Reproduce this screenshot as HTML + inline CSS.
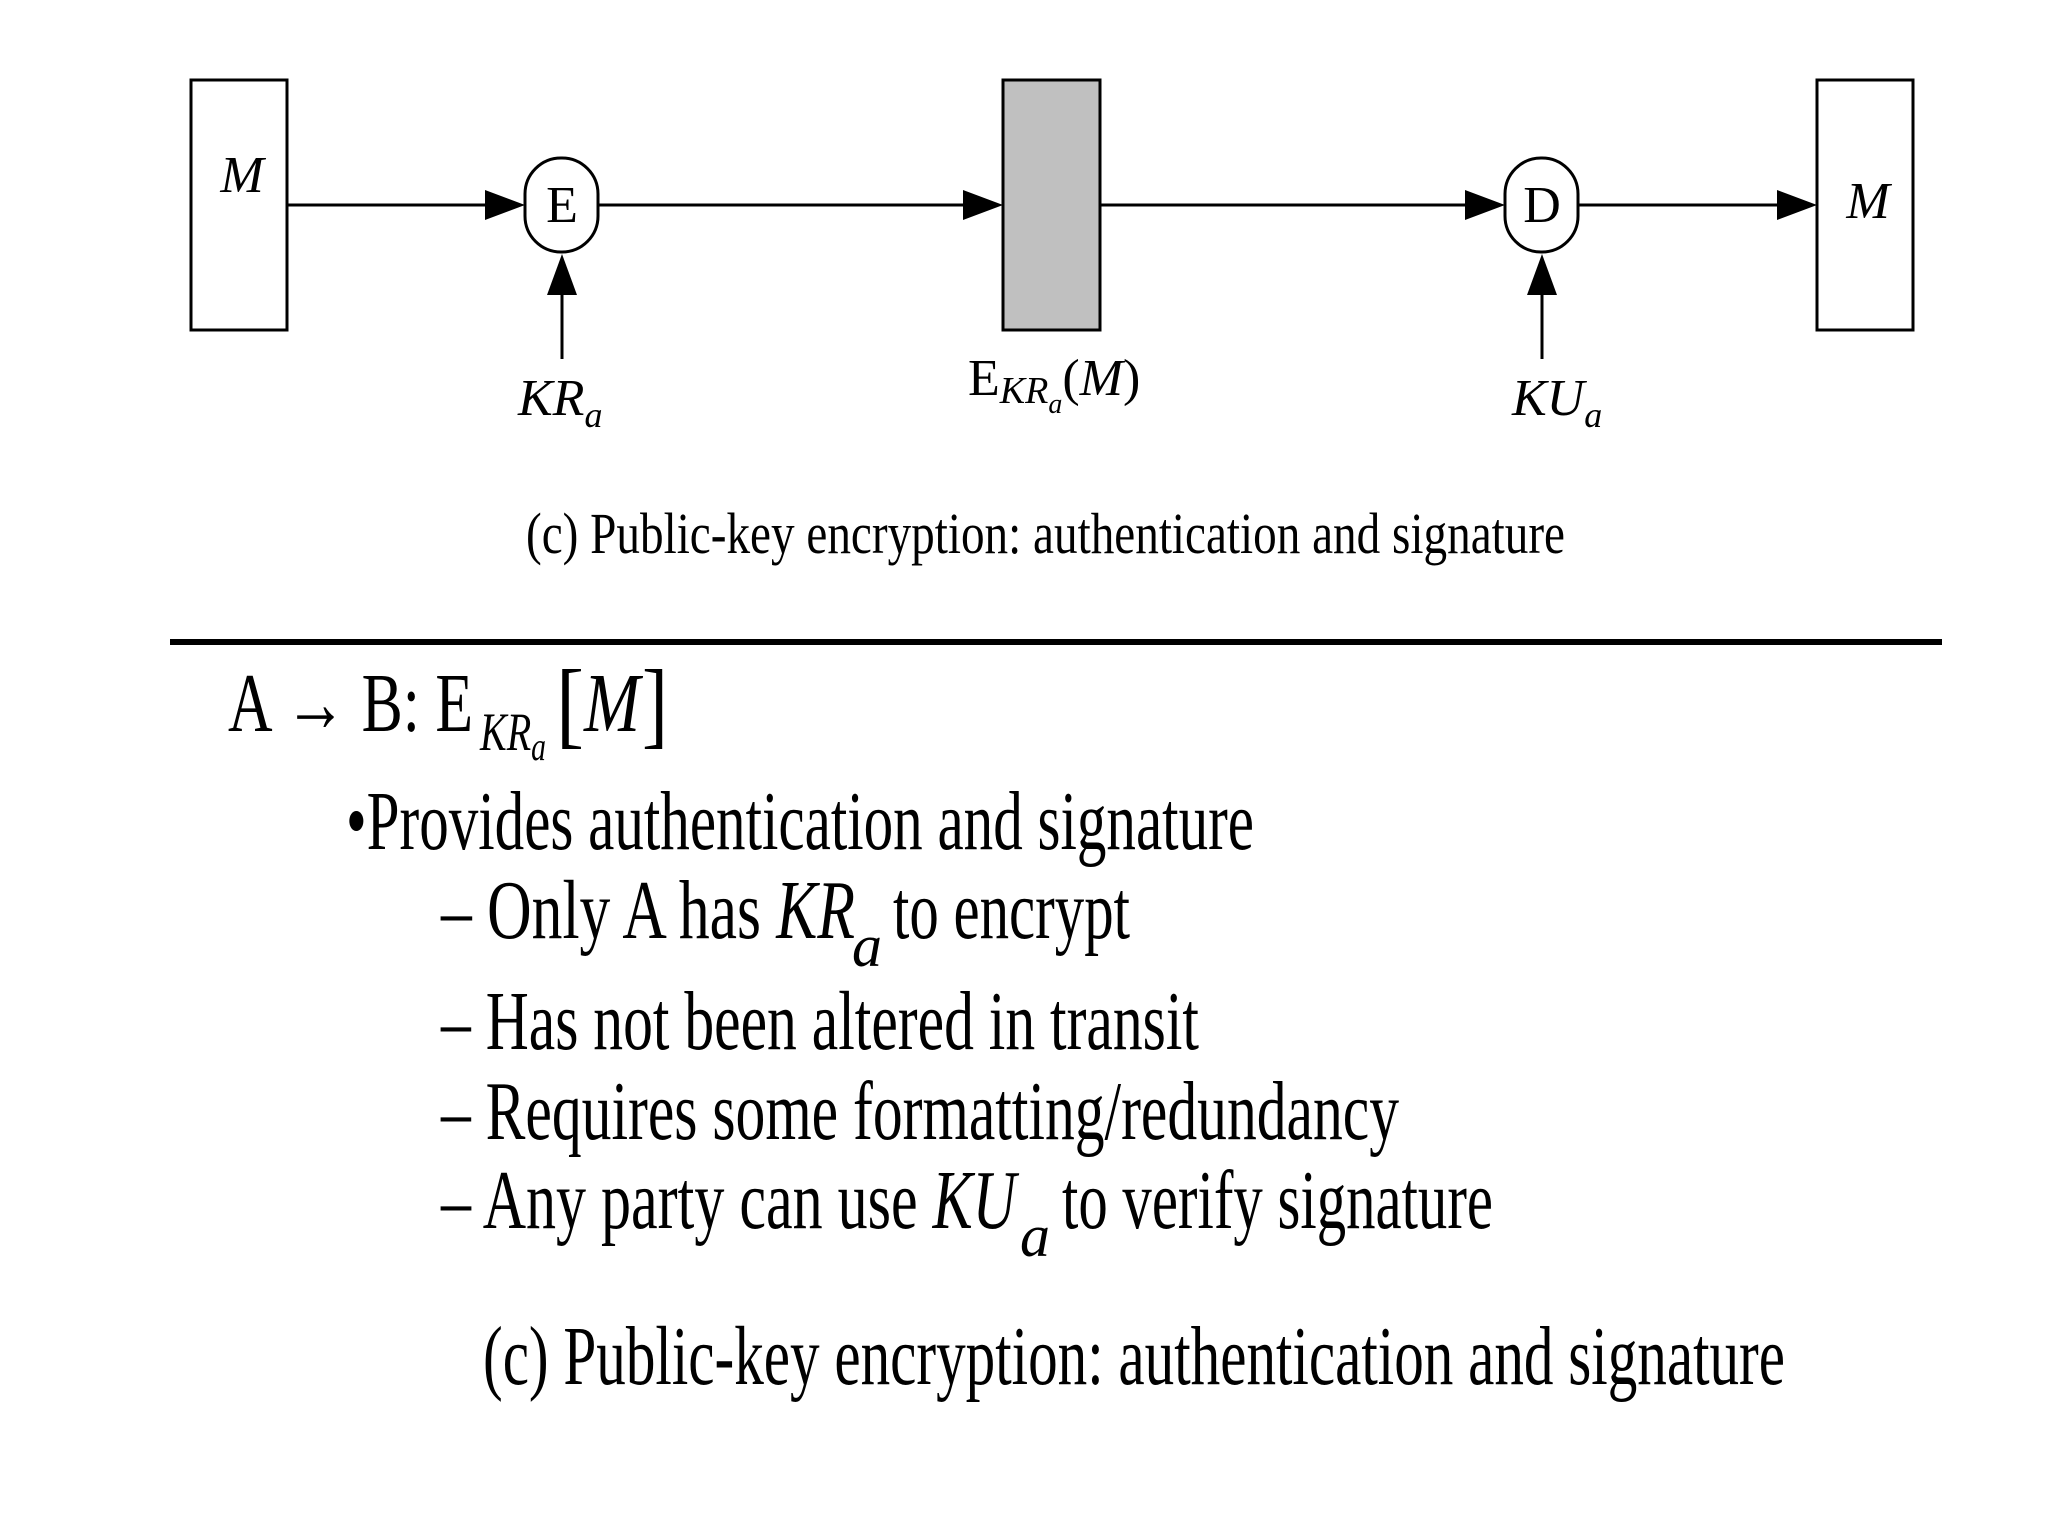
<!DOCTYPE html>
<html><head><style>html,body{margin:0;padding:0;background:#fff;}svg{display:block}</style></head>
<body>
<svg width="2048" height="1536" viewBox="0 0 2048 1536" xmlns="http://www.w3.org/2000/svg" font-family="Liberation Serif, serif">
<g stroke="#000" stroke-width="3" fill="none">
<rect x="191" y="80" width="96" height="250" fill="#fff"/>
<rect x="1003" y="80" width="97" height="250" fill="#c0c0c0"/>
<rect x="1817" y="80" width="96" height="250" fill="#fff"/>
<rect x="525" y="158" width="73" height="94" rx="36" fill="#fff"/>
<rect x="1505" y="158" width="73" height="94" rx="36" fill="#fff"/>
</g>
<g fill="#000">
<line x1="287" y1="205" x2="485" y2="205" stroke="#000" stroke-width="3"/><path d="M485,190 L525,205 L485,220 z"/>
<line x1="598" y1="205" x2="963" y2="205" stroke="#000" stroke-width="3"/><path d="M963,190 L1003,205 L963,220 z"/>
<line x1="1100" y1="205" x2="1465" y2="205" stroke="#000" stroke-width="3"/><path d="M1465,190 L1505,205 L1465,220 z"/>
<line x1="1578" y1="205" x2="1777" y2="205" stroke="#000" stroke-width="3"/><path d="M1777,190 L1817,205 L1777,220 z"/>
<line x1="562" y1="295" x2="562" y2="359" stroke="#000" stroke-width="3"/><path d="M547,295 L562,254 L577,295 z"/>
<line x1="1542" y1="295" x2="1542" y2="359" stroke="#000" stroke-width="3"/><path d="M1527,295 L1542,254 L1557,295 z"/>
</g>
<g font-size="52">
<text x="242" y="192" text-anchor="middle" font-style="italic">M</text>
<text x="1868" y="218" text-anchor="middle" font-style="italic">M</text>
<text x="562" y="222" text-anchor="middle">E</text>
<text x="1542" y="222" text-anchor="middle">D</text>
<text x="518" y="415" font-style="italic">KR<tspan font-size="36" dy="12">a</tspan></text>
<text x="968" y="395">E<tspan font-style="italic" font-size="38" dy="8">KR</tspan><tspan font-style="italic" font-size="28" dy="10">a</tspan><tspan dy="-18">(</tspan><tspan font-style="italic">M</tspan>)</text>
<text x="1512" y="415" font-style="italic">KU<tspan font-size="36" dy="12">a</tspan></text>
</g>
<text x="526" y="553" font-size="58" textLength="1039" lengthAdjust="spacingAndGlyphs">(c) Public-key encryption: authentication and signature</text>
<rect x="170" y="639" width="1772" height="6" fill="#000"/>
<g font-size="84">
<text x="228" y="731" textLength="245" lengthAdjust="spacingAndGlyphs">A → B: E</text>
<text x="480" y="750" font-size="54" font-style="italic" textLength="66" lengthAdjust="spacingAndGlyphs">KR<tspan font-size="40" dy="10">a</tspan></text>
<text x="556" y="736" font-size="96" textLength="28" lengthAdjust="spacingAndGlyphs">[</text><text x="584" y="731" font-style="italic" textLength="56" lengthAdjust="spacingAndGlyphs">M</text><text x="642" y="736" font-size="96" textLength="26" lengthAdjust="spacingAndGlyphs">]</text>
<text x="346" y="849" textLength="908" lengthAdjust="spacingAndGlyphs">•Provides authentication and signature</text>
<text x="441" y="938" textLength="414" lengthAdjust="spacingAndGlyphs">– Only A has <tspan font-style="italic">KR</tspan></text>
<text x="852" y="966" font-style="italic" font-size="60">a</text>
<text x="893" y="938" textLength="237" lengthAdjust="spacingAndGlyphs">to encrypt</text>
<text x="441" y="1049" textLength="758" lengthAdjust="spacingAndGlyphs">– Has not been altered in transit</text>
<text x="441" y="1139" textLength="958" lengthAdjust="spacingAndGlyphs">– Requires some formatting/redundancy</text>
<text x="441" y="1228" textLength="575" lengthAdjust="spacingAndGlyphs">– Any party can use <tspan font-style="italic">KU</tspan></text>
<text x="1020" y="1256" font-style="italic" font-size="60">a</text>
<text x="1062" y="1228" textLength="431" lengthAdjust="spacingAndGlyphs">to verify signature</text>
<text x="483" y="1384" textLength="1302" lengthAdjust="spacingAndGlyphs">(c) Public-key encryption: authentication and signature</text>
</g>
</svg>
</body></html>
